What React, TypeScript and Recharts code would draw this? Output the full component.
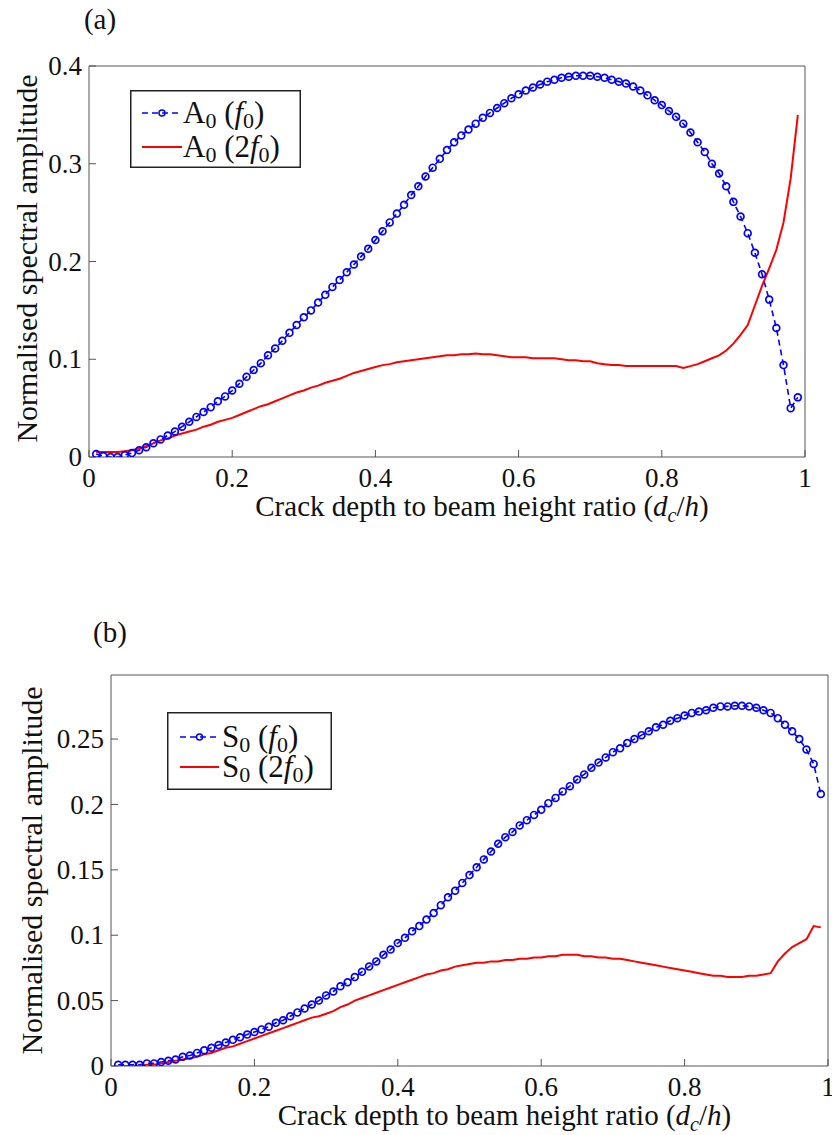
import { LineChart, Line, XAxis, YAxis } from "recharts";

const FONT = "'Liberation Serif', 'Times New Roman', serif";
const AXIS = "#555";
const TEXT = "#111";
const BLUE = "#0000ff";
const RED = "#ff0000";

// === crack depth ratio d_c/h (x) ===
const crackRatio = [
  0.01, 0.02, 0.03, 0.04, 0.05, 0.06, 0.07, 0.08, 0.09, 0.1,
  0.11, 0.12, 0.13, 0.14, 0.15, 0.16, 0.17, 0.18, 0.19, 0.2,
  0.21, 0.22, 0.23, 0.24, 0.25, 0.26, 0.27, 0.28, 0.29, 0.3,
  0.31, 0.32, 0.33, 0.34, 0.35, 0.36, 0.37, 0.38, 0.39, 0.4,
  0.41, 0.42, 0.43, 0.44, 0.45, 0.46, 0.47, 0.48, 0.49, 0.5,
  0.51, 0.52, 0.53, 0.54, 0.55, 0.56, 0.57, 0.58, 0.59, 0.6,
  0.61, 0.62, 0.63, 0.64, 0.65, 0.66, 0.67, 0.68, 0.69, 0.7,
  0.71, 0.72, 0.73, 0.74, 0.75, 0.76, 0.77, 0.78, 0.79, 0.8,
  0.81, 0.82, 0.83, 0.84, 0.85, 0.86, 0.87, 0.88, 0.89, 0.9,
  0.91, 0.92, 0.93, 0.94, 0.95, 0.96, 0.97, 0.98, 0.99,
];

// (a) A0 mode
const a0Fundamental = [
  0.003, 0.001, 0.0, 0.0, 0.002, 0.004, 0.007, 0.01, 0.014, 0.018,
  0.022, 0.026, 0.031, 0.036, 0.041, 0.046, 0.051, 0.057, 0.062, 0.068,
  0.075, 0.082, 0.089, 0.096, 0.104, 0.111, 0.119, 0.127, 0.135, 0.143,
  0.15, 0.158, 0.166, 0.174, 0.181, 0.189, 0.197, 0.205, 0.213, 0.222,
  0.231, 0.24, 0.249, 0.258, 0.268, 0.277, 0.287, 0.296, 0.305, 0.314,
  0.322, 0.329, 0.335, 0.341, 0.347, 0.352, 0.357, 0.362, 0.367, 0.371,
  0.375, 0.378, 0.381, 0.384, 0.386, 0.388, 0.389, 0.39, 0.39, 0.39,
  0.389, 0.388, 0.386, 0.384, 0.382, 0.379, 0.375, 0.37, 0.365, 0.36,
  0.354, 0.348, 0.341, 0.332, 0.322, 0.312, 0.3, 0.29, 0.277, 0.261,
  0.246, 0.229, 0.209, 0.187, 0.161, 0.132, 0.094, 0.05, 0.061,
];
const a0Second = [
  0.005, 0.005, 0.005, 0.005, 0.006, 0.007, 0.009, 0.011, 0.014, 0.017,
  0.019, 0.022, 0.024, 0.026, 0.028, 0.031, 0.033, 0.036, 0.038, 0.04,
  0.043, 0.046, 0.049, 0.052, 0.054, 0.057, 0.06, 0.063, 0.066, 0.068,
  0.071, 0.073, 0.076, 0.078, 0.08, 0.083, 0.086, 0.088, 0.09, 0.092,
  0.094, 0.095, 0.097, 0.098, 0.099, 0.1, 0.101, 0.102, 0.103, 0.104,
  0.104, 0.105, 0.105, 0.106, 0.105, 0.105, 0.104, 0.103, 0.102, 0.102,
  0.102, 0.101, 0.101, 0.101, 0.101, 0.1, 0.099, 0.099, 0.098, 0.098,
  0.096, 0.095, 0.094, 0.094, 0.093, 0.093, 0.093, 0.093, 0.093, 0.093,
  0.093, 0.093, 0.091, 0.093, 0.095, 0.098, 0.101, 0.104, 0.109, 0.116,
  0.125, 0.135, 0.155, 0.175, 0.193, 0.212, 0.24, 0.285, 0.35,
];

// (b) S0 mode
const s0Fundamental = [
  0.001, 0.001, 0.001, 0.001, 0.002, 0.002, 0.003, 0.004, 0.005, 0.007,
  0.008, 0.01, 0.012, 0.014, 0.016, 0.018, 0.02, 0.022, 0.024, 0.026,
  0.028, 0.03, 0.033, 0.035, 0.038, 0.041, 0.044, 0.047, 0.05, 0.054,
  0.057, 0.061, 0.064, 0.068, 0.072, 0.076, 0.08, 0.085, 0.089, 0.094,
  0.098, 0.103, 0.107, 0.112, 0.117, 0.123, 0.129, 0.134, 0.14, 0.146,
  0.152, 0.158, 0.164, 0.17, 0.175, 0.179, 0.184, 0.188, 0.192, 0.196,
  0.201, 0.205, 0.21, 0.214, 0.219, 0.223, 0.228, 0.232, 0.236, 0.24,
  0.243, 0.247, 0.25, 0.253, 0.256, 0.259, 0.261, 0.264, 0.266, 0.268,
  0.27, 0.271, 0.272, 0.274, 0.275, 0.275, 0.2755, 0.2755, 0.275, 0.274,
  0.272, 0.27, 0.266, 0.261, 0.256, 0.25, 0.242, 0.231, 0.208,
];
const s0Second = [
  0.0, 0.0, 0.0, 0.0, 0.001, 0.001, 0.002, 0.003, 0.004, 0.005,
  0.006, 0.007, 0.009, 0.01, 0.012, 0.014, 0.015, 0.017, 0.019, 0.021,
  0.023, 0.025, 0.027, 0.029, 0.031, 0.033, 0.035, 0.037, 0.038, 0.04,
  0.042, 0.045, 0.047, 0.05, 0.052, 0.054, 0.056, 0.058, 0.06, 0.062,
  0.064, 0.066, 0.068, 0.07, 0.071, 0.073, 0.074, 0.076, 0.077, 0.078,
  0.079, 0.079, 0.08, 0.08, 0.081, 0.081, 0.082, 0.082, 0.083, 0.083,
  0.084, 0.084, 0.085, 0.085, 0.085, 0.084, 0.084, 0.083, 0.083, 0.082,
  0.082, 0.081, 0.08, 0.079, 0.078, 0.077, 0.076, 0.075, 0.074, 0.073,
  0.072, 0.071, 0.07, 0.069, 0.069, 0.068, 0.068, 0.068, 0.069, 0.069,
  0.07, 0.071, 0.08, 0.086, 0.091, 0.094, 0.097, 0.107, 0.106,
];

const xTicks = [0, 0.2, 0.4, 0.6, 0.8, 1];
const yTicksA = [0, 0.1, 0.2, 0.3, 0.4];
const yTicksB = [0, 0.05, 0.1, 0.15, 0.2, 0.25];

type Row = { x: number; f0: number; f2: number };

const buildRows = (f0: number[], f2: number[]): Row[] =>
  crackRatio.map((x, i) => ({ x, f0: f0[i], f2: f2[i] }));

const serif = { fontFamily: FONT };

// === ticks (texto serifado, como no MATLAB) ===
const bottomTick = (props: any) => (
  <text x={props.x} y={props.y} dy="0.71em" textAnchor="middle" fontSize={27} fill={TEXT} style={serif}>
    {props.payload.value}
  </text>
);
const leftTick = (props: any) => (
  <text x={props.x} y={props.y} dy="0.34em" textAnchor="end" fontSize={27} fill={TEXT} style={serif}>
    {props.payload.value}
  </text>
);

// === titulos dos eixos ===
const xTitle = (props: any) => {
  const vb = props.viewBox || { x: 0, y: 0, width: 0 };
  return (
    <text
      x={vb.x + vb.width / 2 + 35}
      y={vb.y + 59}
      textAnchor="middle"
      fontSize={29}
      fill={TEXT}
      style={serif}
    >
      Crack depth to beam height ratio (<tspan fontStyle="italic">d</tspan>
      <tspan fontStyle="italic" fontSize={20} dy={6}>c</tspan>
      <tspan dy={-6}>/</tspan>
      <tspan fontStyle="italic">h</tspan>)
    </text>
  );
};

const yTitle = (baseX: number, shift: number) => (props: any) => {
  const vb = props.viewBox || { x: 0, y: 0, height: 0 };
  const cx = vb.x + baseX;
  const cy = vb.y + vb.height / 2 + shift;
  return (
    <text
      x={cx}
      y={cy}
      transform={`rotate(-90, ${cx}, ${cy})`}
      textAnchor="middle"
      fontSize={30}
      fill={TEXT}
      style={serif}
    >
      Normalised spectral amplitude
    </text>
  );
};

interface PanelProps {
  rows: Row[];
  top: number;
  height: number;
  margin: { top: number; right: number; bottom: number; left: number };
  yAxisWidth: number;
  xAxisHeight: number;
  yDomain: [number, number];
  yTicks: number[];
  yTitleX: number;
  yTitleShift: number;
}

const Panel = ({
  rows,
  top,
  height,
  margin,
  yAxisWidth,
  xAxisHeight,
  yDomain,
  yTicks,
  yTitleX,
  yTitleShift,
}: PanelProps) => (
  <div style={{ position: "absolute", left: 0, top, fontFamily: FONT }}>
    <LineChart width={832} height={height} data={rows} margin={margin} style={serif}>
      <XAxis
        dataKey="x"
        type="number"
        domain={[0, 1]}
        ticks={xTicks}
        interval={0}
        allowDataOverflow
        height={xAxisHeight}
        stroke={AXIS}
        tickSize={-7}
        tickMargin={18}
        tick={bottomTick}
        label={xTitle}
      />
      <XAxis
        xAxisId="top"
        orientation="top"
        type="number"
        domain={[0, 1]}
        ticks={xTicks}
        interval={0}
        allowDataOverflow
        height={1}
        stroke={AXIS}
        tickSize={-7}
        tick={false}
      />
      <YAxis
        type="number"
        domain={yDomain}
        ticks={yTicks}
        interval={0}
        allowDataOverflow
        width={yAxisWidth}
        stroke={AXIS}
        tickSize={-7}
        tickMargin={14}
        tick={leftTick}
        label={yTitle(yTitleX, yTitleShift)}
      />
      <YAxis
        yAxisId="right"
        orientation="right"
        type="number"
        domain={yDomain}
        ticks={yTicks}
        interval={0}
        allowDataOverflow
        width={1}
        stroke={AXIS}
        tickSize={-7}
        tick={false}
      />
      <Line
        type="linear"
        dataKey="f0"
        stroke={BLUE}
        strokeWidth={1.6}
        strokeDasharray="6 4"
        dot={{ r: 3.4, stroke: BLUE, strokeWidth: 1.7, fill: "none", strokeDasharray: "none" }}
        activeDot={false}
        isAnimationActive={false}
      />
      <Line
        type="linear"
        dataKey="f2"
        stroke={RED}
        strokeWidth={2}
        dot={false}
        activeDot={false}
        isAnimationActive={false}
      />
    </LineChart>
  </div>
);

// === legenda (caixa no canto superior esquerdo) ===
interface LegendProps {
  left: number;
  top: number;
  width: number;
  height: number;
  mode: string;
  lineX1: number;
  lineX2: number;
  textX: number;
  rowY: [number, number];
  baseY: [number, number];
}

const LegendBox = ({ left, top, width, height, mode, lineX1, lineX2, textX, rowY, baseY }: LegendProps) => {
  const mid = (lineX1 + lineX2) / 2;
  const entry = (prefix: string, y: number) => (
    <text x={textX} y={y} fontSize={31} fill={TEXT} style={serif}>
      {mode}
      <tspan fontSize={22} dy={5}>0</tspan>
      <tspan dy={-5}>{"\u00a0(" + prefix}</tspan>
      <tspan fontStyle="italic">f</tspan>
      <tspan fontSize={22} dy={5}>0</tspan>
      <tspan dy={-5}>)</tspan>
    </text>
  );
  return (
    <svg style={{ position: "absolute", left, top }} width={width} height={height}>
      <rect x={0.75} y={0.75} width={width - 1.5} height={height - 1.5} fill="#fff" stroke="#222" strokeWidth={1.5} />
      <line x1={lineX1} x2={lineX2} y1={rowY[0]} y2={rowY[0]} stroke={BLUE} strokeWidth={1.6} strokeDasharray="6 4" />
      <circle cx={mid} cy={rowY[0]} r={3} stroke={BLUE} strokeWidth={1.5} fill="none" />
      <line x1={lineX1} x2={lineX2} y1={rowY[1]} y2={rowY[1]} stroke={RED} strokeWidth={2} />
      {entry("", baseY[0])}
      {entry("2", baseY[1])}
    </svg>
  );
};

const App = () => {
  const rowsA = buildRows(a0Fundamental, a0Second);
  const rowsB = buildRows(s0Fundamental, s0Second);

  return (
    <div style={{ position: "absolute", left: 0, top: 0, width: 832, height: 1135, background: "#fff" }}>
      <Panel
        rows={rowsA}
        top={0}
        height={560}
        margin={{ top: 65, right: 26, bottom: 43, left: 0 }}
        yAxisWidth={89}
        xAxisHeight={60}
        yDomain={[0, 0.4]}
        yTicks={yTicksA}
        yTitleX={37}
        yTitleShift={-3}
      />
      <Panel
        rows={rowsB}
        top={580}
        height={555}
        margin={{ top: 94, right: 3, bottom: 29, left: 0 }}
        yAxisWidth={111}
        xAxisHeight={40}
        yDomain={[0, 0.299]}
        yTicks={yTicksB}
        yTitleX={42}
        yTitleShift={0}
      />

      <LegendBox
        left={130}
        top={90}
        width={171}
        height={78}
        mode="A"
        lineX1={12}
        lineX2={52}
        textX={53}
        rowY={[23, 57]}
        baseY={[33, 67]}
      />
      <LegendBox
        left={167}
        top={712}
        width={165}
        height={78}
        mode="S"
        lineX1={13}
        lineX2={52}
        textX={55}
        rowY={[25, 55]}
        baseY={[35, 65]}
      />

      {/* rótulos dos painéis */}
      <svg style={{ position: "absolute", left: 0, top: 0, pointerEvents: "none" }} width={832} height={1135}>
        <text x={100} y={29} textAnchor="middle" fontSize={29} fill={TEXT} style={serif}>
          (a)
        </text>
        <text x={110} y={642} textAnchor="middle" fontSize={29} fill={TEXT} style={serif}>
          (b)
        </text>
      </svg>
    </div>
  );
};

export default App;
